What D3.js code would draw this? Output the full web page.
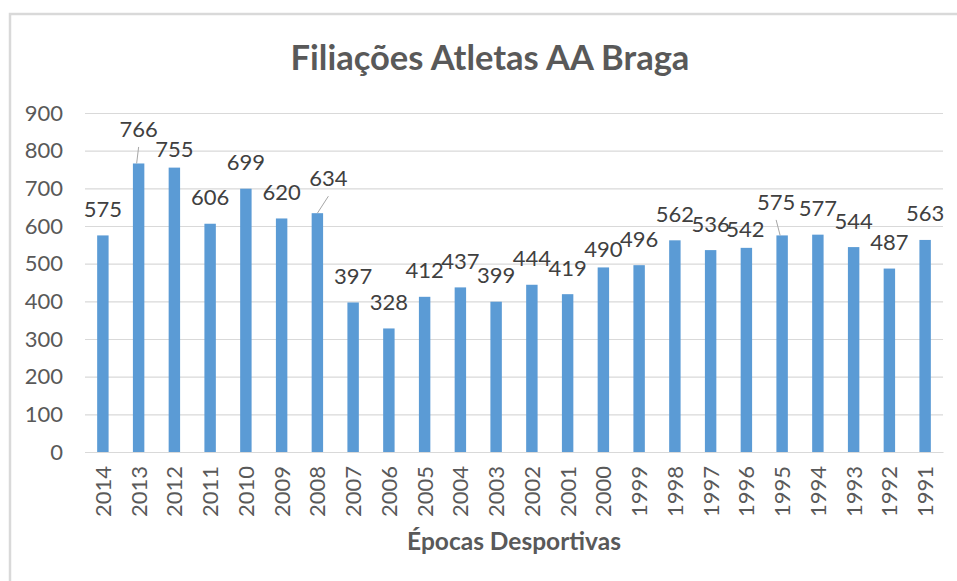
<!DOCTYPE html>
<html>
<head>
<meta charset="utf-8">
<script src="https://cdn.jsdelivr.net/npm/d3@7"></script>
<style>
  body { margin: 0; background: #fff; }
  text { font-family: Lato, "Liberation Sans", Arial, sans-serif; }
</style>
</head>
<body>
<svg id="chart" width="957" height="581"></svg>
<script>
// data
var seasons = ["2014","2013","2012","2011","2010","2009","2008","2007","2006","2005","2004","2003",
               "2002","2001","2000","1999","1998","1997","1996","1995","1994","1993","1992","1991"];
var athletes = [575, 766, 755, 606, 699, 620, 634, 397, 328, 412, 437, 399,
                444, 419, 490, 496, 562, 536, 542, 575, 577, 544, 487, 563];
var yTicks = [0, 100, 200, 300, 400, 500, 600, 700, 800, 900];

// labels that were dragged by hand in the original (index -> [dx, dy, leader line])
var labelNudge = {
  1: [0, -8, true],
  2: [0, 7.5, false],
  6: [11, -8.5, true],
  14: [0, 8, false],
  18: [-1, 8, false],
  19: [-6, -7, true]
};

var margin = {top: 113, right: 14, bottom: 129, left: 85},
    width = 957 - margin.left - margin.right,
    height = 581 - margin.top - margin.bottom;

var svg = d3.select("#chart");

// chart frame
svg.append("rect")
  .attr("x", 10).attr("y", 14)
  .attr("width", 990).attr("height", 620)
  .attr("fill", "none")
  .attr("stroke", "#d9d9d9")
  .attr("stroke-width", 2.5);

var g = svg.append("g")
  .attr("transform", "translate(" + margin.left + "," + margin.top + ")");

var x = d3.scaleBand()
  .domain(seasons)
  .range([0, width])
  .paddingInner(0.68)
  .paddingOuter(0.34);

var y = d3.scaleLinear()
  .domain([0, 900])
  .range([height, 0]);

// gridlines + y labels
var yAxis = g.append("g")
  .call(d3.axisLeft(y).tickValues(yTicks).tickSize(-width).tickPadding(22));
yAxis.select(".domain").remove();
yAxis.selectAll(".tick line").attr("stroke", "#d9d9d9").attr("stroke-width", 1.2);
yAxis.selectAll(".tick text")
  .attr("fill", "#595959")
  .style("font-size", "22px");

// x axis
var xAxis = g.append("g")
  .attr("transform", "translate(0," + height + ")")
  .call(d3.axisBottom(x).tickSize(0));
xAxis.select(".domain").attr("stroke", "#d9d9d9").attr("stroke-width", 1.2);
xAxis.selectAll(".tick text")
  .attr("fill", "#595959")
  .style("font-size", "22px")
  .attr("text-anchor", "end")
  .attr("transform", "rotate(-90)")
  .attr("x", -14)
  .attr("y", 0)
  .attr("dy", "0.36em");

// bars
g.selectAll(".bar")
  .data(athletes)
  .enter()
  .append("rect")
  .attr("class", "bar")
  .attr("x", function(d, i) { return x(seasons[i]); })
  .attr("y", function(d) { return y(d); })
  .attr("width", x.bandwidth())
  .attr("height", function(d) { return height - y(d); })
  .attr("fill", "#5b9bd5");

// leader lines
g.selectAll(".leader")
  .data(athletes.map(function(d, i) { return {v: d, i: i}; })
    .filter(function(d) { return labelNudge[d.i] && labelNudge[d.i][2]; }))
  .enter()
  .append("line")
  .attr("class", "leader")
  .attr("x1", function(d) { return x(seasons[d.i]) + x.bandwidth() / 2 + labelNudge[d.i][0]; })
  .attr("y1", function(d) { return y(d.v) - 18.5 + labelNudge[d.i][1] + 10; })
  .attr("x2", function(d) { return x(seasons[d.i]) + x.bandwidth() / 2 - (labelNudge[d.i][0] > 0 ? 0 : 2); })
  .attr("y2", function(d) { return y(d.v); })
  .attr("stroke", "#a6a6a6")
  .attr("stroke-width", 1);

// data labels
g.selectAll(".label")
  .data(athletes)
  .enter()
  .append("text")
  .attr("class", "label")
  .attr("x", function(d, i) {
    var n = labelNudge[i] ? labelNudge[i][0] : 0;
    return x(seasons[i]) + x.bandwidth() / 2 + n;
  })
  .attr("y", function(d, i) {
    var n = labelNudge[i] ? labelNudge[i][1] : 0;
    return y(d) - 18.5 + n;
  })
  .attr("text-anchor", "middle")
  .attr("fill", "#404040")
  .style("font-size", "22px")
  .text(function(d) { return d; });

// chart title
svg.append("text")
  .attr("x", 490)
  .attr("y", 70)
  .attr("text-anchor", "middle")
  .attr("fill", "#595959")
  .style("font-size", "34.5px")
  .style("font-weight", "bold")
  .text("Filiações Atletas AA Braga");

// x-label
svg.append("text")
  .attr("x", margin.left + width / 2)
  .attr("y", 550)
  .attr("text-anchor", "middle")
  .attr("fill", "#595959")
  .style("font-size", "24.5px")
  .style("font-weight", "bold")
  .text("Épocas Desportivas");
</script>
</body>
</html>
